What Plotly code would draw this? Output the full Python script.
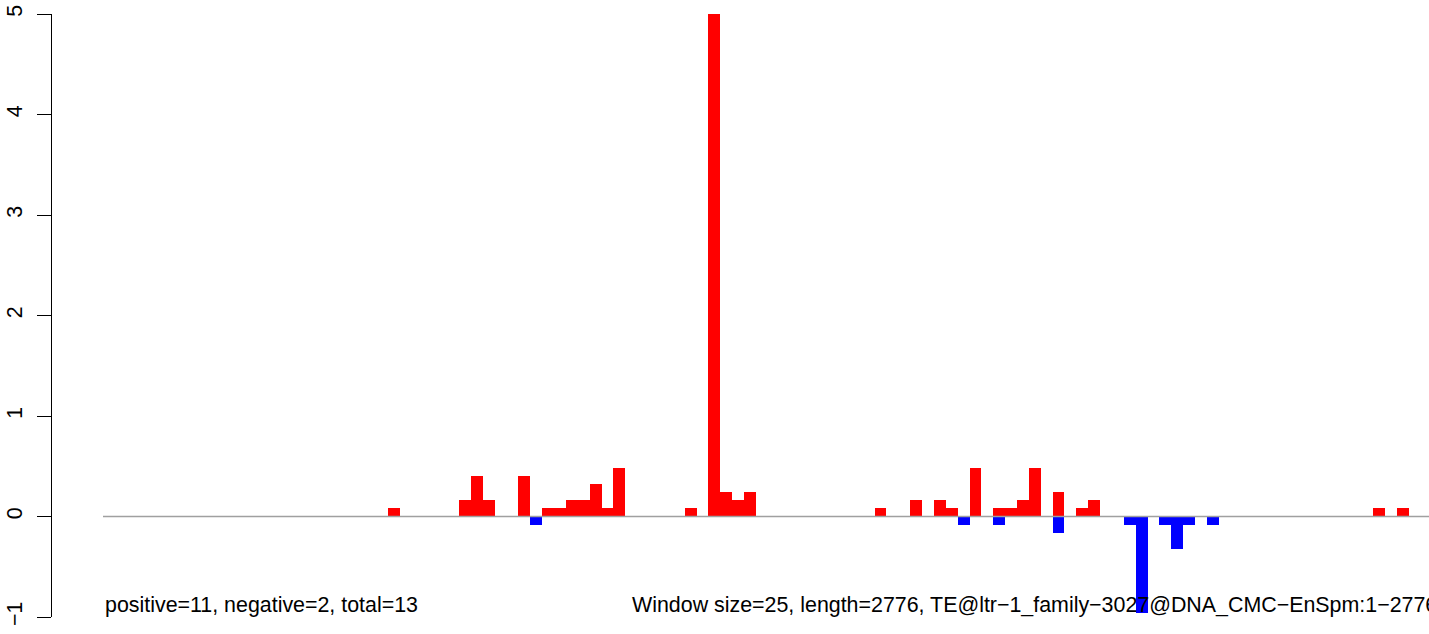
import plotly.graph_objects as go

# window index (25 bp windows) -> signal
pos_windows = [24, 30, 31, 32, 35, 37, 38, 39, 40, 41, 42, 43, 49, 51, 52, 53, 54,
               65, 68, 70, 71, 73, 75, 76, 77, 78, 80, 82, 83, 107, 109]
pos_values = [0.08, 0.16, 0.40, 0.16, 0.40, 0.08, 0.08, 0.16, 0.16, 0.32, 0.08, 0.48,
              0.08, 5.0, 0.24, 0.16, 0.24,
              0.08, 0.16, 0.16, 0.08, 0.48, 0.08, 0.08, 0.16, 0.48, 0.24, 0.08, 0.16,
              0.08, 0.08]
neg_windows = [36, 72, 75, 80, 86, 87, 89, 90, 91, 93]
neg_values = [-0.08, -0.08, -0.08, -0.16, -0.08, -0.96, -0.08, -0.32, -0.08, -0.08]

y_ticks = [-1, 0, 1, 2, 3, 4, 5]
left_note = "positive=11, negative=2, total=13"
right_note = "Window size=25, length=2776, TE@ltr\u22121_family\u22123027@DNA_CMC\u2212EnSpm:1\u22122776"

W, H = 1429, 634
font = "Liberation Sans, Arial, sans-serif"
fs = 21.4

fig = go.Figure()
fig.add_trace(go.Bar(x=pos_windows, y=pos_values, width=1, marker=dict(color="#ff0000", line=dict(width=0))))
fig.add_trace(go.Bar(x=neg_windows, y=neg_values, width=1, marker=dict(color="#0000ff", line=dict(width=0))))

# baseline at zero
fig.add_shape(type="line", xref="x domain", yref="y", x0=0, x1=1, y0=0, y1=0,
              line=dict(color="#a0a0a0", width=1.5), layer="above")

fig.add_annotation(text=left_note, xref="x", yref="y", x=-0.5, y=-0.88,
                   xanchor="left", yanchor="middle", showarrow=False,
                   font=dict(size=fs, color="black", family=font))
fig.add_annotation(text=right_note, xref="x", yref="y", x=43.9, y=-0.88,
                   xanchor="left", yanchor="middle", showarrow=False,
                   font=dict(size=fs, color="black", family=font))

ml = 51      # y axis line position
pl = 103     # left edge of first bar
fig.update_layout(
    width=W, height=H,
    margin=dict(l=ml, r=0, t=14, b=17, pad=0, autoexpand=False),
    paper_bgcolor="white", plot_bgcolor="white",
    barmode="overlay", bargap=0, showlegend=False,
    font=dict(family=font, size=fs, color="black"),
    xaxis=dict(range=[-0.5, -0.5 + (W - pl) / 11.87], domain=[(pl - ml) / (W - ml), 1],
               visible=False, showgrid=False, zeroline=False, automargin=False),
    yaxis=dict(range=[-1, 5], anchor="free", position=0, showline=True, linecolor="black",
               linewidth=1.2, ticks="outside", ticklen=14, tickwidth=1.2, tickcolor="black",
               tickvals=y_ticks, tickangle=-90, ticklabelstandoff=6, automargin=False,
               ticklabeloverflow="allow",
               showgrid=False, zeroline=False, tickfont=dict(size=fs, family=font)),
)

# drop the default 8px page margin so the figure fills the window
fig.write_html("out.html", config={"displayModeBar": False},
               post_script="document.body.style.margin='0';document.body.style.overflow='hidden';")
